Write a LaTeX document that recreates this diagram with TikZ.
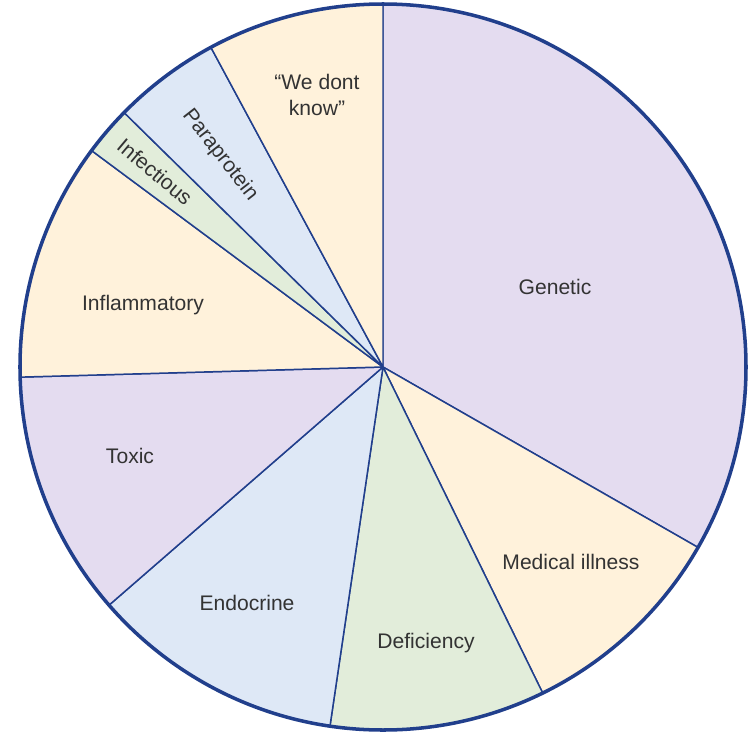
\documentclass[tikz,border=0pt]{standalone}
\usepackage{fontspec}
\setmainfont{Liberation Sans}

\definecolor{pieblue}{HTML}{213F8C}
\definecolor{lilac}{HTML}{E4DCF0}
\definecolor{cream}{HTML}{FFF2DB}
\definecolor{mint}{HTML}{E2EDDA}
\definecolor{sky}{HTML}{DEE8F6}

\begin{document}
\begin{tikzpicture}[
    x=0.02cm, y=0.02cm,
    slice/.style={draw=pieblue, line width=0.85pt, line join=round, fill=#1},
    rim/.style={draw=pieblue, line width=2pt},
    lbl/.style={font=\fontsize{12}{15}\selectfont, text=black!80, align=center}
  ]
  \useasboundingbox (-383,-364) rectangle (367,367);
  \coordinate (c) at (0,0);

  % Slices, clockwise from the top
  \filldraw[slice=lilac] (c) -- (90:363) arc[start angle=90, end angle=-29.8, radius=363] -- cycle;
  \filldraw[slice=cream] (c) -- (-29.8:363) arc[start angle=-29.8, end angle=-63.9, radius=363] -- cycle;
  \filldraw[slice=mint] (c) -- (-63.9:363) arc[start angle=-63.9, end angle=-98.4, radius=363] -- cycle;
  \filldraw[slice=sky] (c) -- (-98.4:363) arc[start angle=-98.4, end angle=-139, radius=363] -- cycle;
  \filldraw[slice=lilac] (c) -- (-139:363) arc[start angle=-139, end angle=-178.4, radius=363] -- cycle;
  \filldraw[slice=cream] (c) -- (181.6:363) arc[start angle=181.6, end angle=143.4, radius=363] -- cycle;
  \filldraw[slice=mint] (c) -- (143.4:363) arc[start angle=143.4, end angle=135.5, radius=363] -- cycle;
  \filldraw[slice=sky] (c) -- (135.5:363) arc[start angle=135.5, end angle=118.3, radius=363] -- cycle;
  \filldraw[slice=cream] (c) -- (118.3:363) arc[start angle=118.3, end angle=90, radius=363] -- cycle;

  % Outer rim
  \draw[rim] (c) circle[radius=363];

  % Labels
  \node[lbl] (genetic) at (172,80) {Genetic};
  \node[lbl] (medical) at (188,-195) {Medical illness};
  \node[lbl] (deficiency) at (43,-276) {Deficiency};
  \node[lbl] (endocrine) at (-136,-236) {Endocrine};
  \node[lbl] (toxic) at (-253,-89) {Toxic};
  \node[lbl] (inflam) at (-240,62) {Inflammatory};
  \node[lbl, rotate=-40] (infect) at (-228,195) {Infectious};
  \node[lbl, rotate=-52] (para) at (-163,212) {Paraprotein};
  \node[lbl] (unknown) at (-66,272) {``We dont\\know''};
\end{tikzpicture}
\end{document}
